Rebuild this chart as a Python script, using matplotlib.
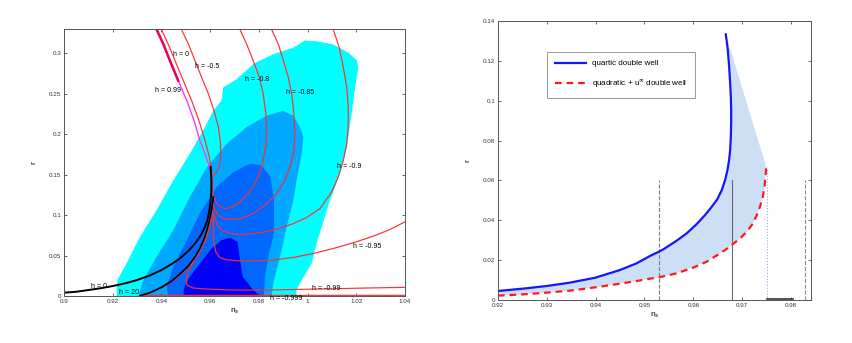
import numpy as np
import matplotlib
matplotlib.use("Agg")
import matplotlib.pyplot as plt

plt.rcParams['font.family'] = ['Liberation Sans', 'DejaVu Sans']

# ---- left panel: likelihood regions in the (n_s, r) plane ----
lev1_ns = [0.9216, 0.9219, 0.9257, 0.9312, 0.9380, 0.9449, 0.9517, 0.9579, 0.9613, 0.9647, 0.9654,
           0.9709, 0.9777, 0.9859, 0.9942, 0.9989, 1.0037, 1.0106, 1.0167, 1.0204, 1.0208, 1.0195,
           1.0181, 1.0161, 1.0133, 1.0092, 1.0058, 1.0037, 1.0017, 0.9976, 0.9955, 0.9953]
lev1_r = [0.0, 0.0197, 0.0403, 0.0732, 0.106, 0.143, 0.176, 0.209, 0.229, 0.242, 0.258,
          0.268, 0.287, 0.299, 0.307, 0.316, 0.315, 0.311, 0.301, 0.291, 0.281, 0.258,
          0.225, 0.184, 0.151, 0.118, 0.0855, 0.0649, 0.0403, 0.0197, 0.0074, 0.0]

lev2_ns = [0.9305, 0.9326, 0.9380, 0.9449, 0.9517, 0.9586, 0.9668, 0.9750, 0.9832, 0.9900, 0.9942,
           0.9969, 0.9983, 0.9976, 0.9955, 0.9942, 0.9914, 0.9900, 0.9880, 0.9859, 0.9853]
lev2_r = [0.0, 0.0197, 0.0485, 0.0814, 0.1225, 0.159, 0.188, 0.209, 0.223, 0.229, 0.223,
          0.209, 0.196, 0.176, 0.143, 0.118, 0.0855, 0.0649, 0.0403, 0.0156, 0.0]

lev3_ns = [0.9428, 0.9422, 0.9449, 0.9504, 0.9558, 0.9627, 0.9695, 0.9764, 0.9812, 0.9848, 0.9862,
           0.9862, 0.9839, 0.9825, 0.9821]
lev3_r = [0.0, 0.0115, 0.0362, 0.069, 0.102, 0.135, 0.153, 0.1636, 0.1615, 0.147, 0.118,
          0.0773, 0.0485, 0.0238, 0.0]

lev4_ns = [0.9490, 0.9493, 0.9517, 0.9558, 0.9606, 0.9647, 0.9682, 0.9712, 0.9723, 0.9734, 0.9777, 0.9805]
lev4_r = [0.0, 0.0115, 0.0238, 0.0403, 0.0588, 0.069, 0.0719, 0.067, 0.0444, 0.0238, 0.0074, 0.0]

# black curves
blk1_ns = [0.9000, 0.9052, 0.9100, 0.9148, 0.9200, 0.9250, 0.9300, 0.9353, 0.9400, 0.9442, 0.9476,
           0.9511, 0.9538, 0.9558, 0.9576, 0.9589, 0.9597, 0.9602, 0.9605, 0.9605, 0.9602]
blk1_r = [0.0041, 0.0053, 0.0074, 0.0095, 0.0123, 0.0156, 0.0197, 0.0255, 0.0321, 0.0395, 0.0464,
          0.0559, 0.0649, 0.0732, 0.0834, 0.0937, 0.1060, 0.1184, 0.1307, 0.1430, 0.1595]
blk2_ns = [0.9312, 0.9353, 0.9400, 0.9442, 0.9476, 0.9511, 0.9538, 0.9558, 0.9576, 0.9589, 0.9599,
           0.9608, 0.9613]
blk2_r = [0.0004, 0.0041, 0.0107, 0.0185, 0.0271, 0.0374, 0.0485, 0.0588, 0.0711, 0.0834, 0.0958,
          0.1102, 0.1225]

# h = const curves
h099_ns = [0.9381, 0.9408, 0.9435, 0.9469, 0.9504, 0.9534, 0.9558, 0.9579, 0.9593, 0.9599]
h099_r = [0.3292, 0.3115, 0.2910, 0.2663, 0.2417, 0.2170, 0.1924, 0.1759, 0.1636, 0.1554]
h0_ns = [0.9401, 0.9428, 0.9456, 0.9490, 0.9524, 0.9554, 0.9579, 0.9597, 0.9606, 0.9610, 0.9613]
h0_r = [0.3292, 0.3115, 0.2910, 0.2663, 0.2417, 0.2170, 0.1924, 0.1718, 0.1554, 0.1389, 0.1225]
h05_ns = [0.9483, 0.9511, 0.9538, 0.9565, 0.9593, 0.9616, 0.9634, 0.9643, 0.9643, 0.9638, 0.9627, 0.9613]
h05_r = [0.3292, 0.3115, 0.2910, 0.2705, 0.2499, 0.2293, 0.2088, 0.1882, 0.1718, 0.1595, 0.1533, 0.1492]
h08_ns = [0.9723, 0.9750, 0.9777, 0.9802, 0.9818, 0.9829, 0.9832, 0.9828, 0.9818, 0.9802, 0.9777,
          0.9750, 0.9723, 0.9695, 0.9668, 0.9647, 0.9630, 0.9620, 0.9616]
h08_r = [0.3292, 0.3115, 0.2910, 0.2705, 0.2499, 0.2252, 0.2006, 0.1841, 0.1677, 0.1513, 0.1348,
         0.1245, 0.1163, 0.1110, 0.1081, 0.1093, 0.1134, 0.1184, 0.1225]
h085_ns = [0.9853, 0.9880, 0.9901, 0.9921, 0.9935, 0.9944, 0.9948, 0.9944, 0.9928, 0.9907, 0.9873,
           0.9832, 0.9777, 0.9723, 0.9682, 0.9654, 0.9634, 0.9621, 0.9616]
h085_r = [0.3292, 0.3115, 0.2910, 0.2705, 0.2499, 0.2252, 0.2006, 0.1800, 0.1595, 0.1430, 0.1266,
          0.1143, 0.1019, 0.0958, 0.0945, 0.0958, 0.0999, 0.1052, 0.1102]
h09_ns = [1.0106, 1.0130, 1.0147, 1.0161, 1.0167, 1.0167, 1.0161, 1.0147, 1.0126, 1.0099, 1.0051,
          0.9996, 0.9942, 0.9887, 0.9832, 0.9777, 0.9723, 0.9682, 0.9651, 0.9630, 0.9621, 0.9616]
h09_r = [0.3292, 0.3074, 0.2828, 0.2581, 0.2335, 0.2088, 0.1882, 0.1677, 0.1471, 0.1286, 0.1081,
         0.0970, 0.0896, 0.0838, 0.0797, 0.0773, 0.0760, 0.0773, 0.0806, 0.0876, 0.0958, 0.1019]
h095_ns = [1.0400, 1.0338, 1.0270, 1.0188, 1.0106, 1.0024, 0.9942, 0.9859, 0.9777, 0.9709, 0.9668,
           0.9640, 0.9624, 0.9616, 0.9613, 0.9613]
h095_r = [0.0917, 0.0822, 0.0740, 0.0658, 0.0588, 0.0526, 0.0477, 0.0444, 0.0432, 0.0436, 0.0448,
          0.0475, 0.0540, 0.0650, 0.0814, 0.0978]
h099n_ns = [1.0400, 1.0243, 1.0106, 0.9969, 0.9832, 0.9695, 0.9586, 0.9531, 0.9506, 0.9501, 0.9511,
            0.9531, 0.9558, 0.9579, 0.9597, 0.9608, 0.9613]
h099n_r = [0.0107, 0.0099, 0.0090, 0.0082, 0.0074, 0.0074, 0.0086, 0.0099, 0.0132, 0.0197, 0.0300,
           0.0423, 0.0588, 0.0711, 0.0855, 0.0999, 0.1143]
h0999_ns = [1.0400, 0.9969, 0.9558, 0.9339, 0.9329, 0.9367, 0.9415, 0.9456, 0.9490, 0.9524, 0.9552,
            0.9572, 0.9589, 0.9599, 0.9608, 0.9613]
h0999_r = [0.0008, 0.0008, 0.0008, 0.0008, 0.0016, 0.0058, 0.0123, 0.0206, 0.0292, 0.0403, 0.0518,
           0.0629, 0.0752, 0.0875, 0.1019, 0.1143]

curve_labels = ['h = 0', 'h = -0.5', 'h = 0.99', 'h = -0.8', 'h = -0.85', 'h = -0.9',
                'h = -0.95', 'h = -0.99', 'h = -0.999', 'h = 0', 'h = 20']
label_ns = [0.9449, 0.9538, 0.9375, 0.9743, 0.9911, 1.0122, 1.0185, 1.0017, 0.9846, 0.911, 0.9227]
label_r = [0.299, 0.284, 0.254, 0.2676, 0.252, 0.1603, 0.0608, 0.0095, -0.0025, 0.0115, 0.0041]

# ---- right panel: double well predictions ----
quartic_ns = [0.92000, 0.92513, 0.92999, 0.93471, 0.93997, 0.94497, 0.94839, 0.95112, 0.95297,
              0.95386, 0.95659, 0.95865, 0.96070, 0.96241, 0.96378, 0.96494, 0.96583, 0.96651,
              0.96699, 0.96733, 0.96754, 0.96768, 0.96775, 0.96775, 0.96768, 0.96754, 0.96733,
              0.96706, 0.96665]
quartic_r = [0.00452, 0.00569, 0.00702, 0.00870, 0.01121, 0.01505, 0.01840, 0.02208, 0.02425,
             0.02542, 0.02977, 0.03345, 0.03813, 0.04265, 0.04683, 0.05068, 0.05519, 0.06021,
             0.06523, 0.07025, 0.07526, 0.08195, 0.08864, 0.09533, 0.10202, 0.10871, 0.11708,
             0.12544, 0.13330]
quadinf_ns = [0.92000, 0.92513, 0.92999, 0.93471, 0.93997, 0.94497, 0.94839, 0.95112, 0.95297,
              0.95659, 0.95995, 0.96275, 0.96494, 0.96651, 0.96788, 0.96959, 0.97096, 0.97212,
              0.97301, 0.97369, 0.97424, 0.97458, 0.97479, 0.97492]
quadinf_r = [0.00217, 0.00284, 0.00368, 0.00468, 0.00636, 0.00820, 0.00953, 0.01070, 0.01137,
             0.01338, 0.01622, 0.01923, 0.02258, 0.02509, 0.02760, 0.03094, 0.03429, 0.03813,
             0.04265, 0.04716, 0.05185, 0.05687, 0.06188, 0.06690]

mark_ns = [0.953, 0.968, 0.9751, 0.9829]
mark_top = [0.060, 0.060, 0.0669, 0.060]
mark_style = ['--', '-', ':', '--']
mark_color = ['#7a7a7a', '#6a6a6a', '#8fa8e8', '#8a8a8a']

fig = plt.figure(figsize=(8.52, 3.43), dpi=100)
axL = fig.add_axes([0.0751, 0.137, 0.4002, 0.778])
axR = fig.add_axes([0.5845, 0.1254, 0.3674, 0.8134])

# left panel
axL.fill(lev1_ns, lev1_r, color='#00ffff', lw=0)
axL.fill(lev2_ns, lev2_r, color='#00a8ff', lw=0)
axL.fill(lev3_ns, lev3_r, color='#0068ff', lw=0)
axL.fill(lev4_ns, lev4_r, color='#0000f5', lw=0)

red = '#ff2f2f'
axL.plot(h099_ns, h099_r, color='#ff33ff', lw=1.0)
for xs, ys in [(h0_ns, h0_r), (h05_ns, h05_r), (h08_ns, h08_r), (h085_ns, h085_r),
               (h09_ns, h09_r), (h095_ns, h095_r), (h099n_ns, h099n_r), (h0999_ns, h0999_r)]:
    axL.plot(xs, ys, color=red, lw=0.85)
axL.plot(h099_ns[:4], h099_r[:4], color='#e8005a', lw=1.8)
axL.plot(blk1_ns, blk1_r, color='black', lw=1.4)
axL.plot(blk2_ns, blk2_r, color='black', lw=1.2)

for txt, x, y in zip(curve_labels, label_ns, label_r):
    axL.text(x, y, txt, fontsize=5, va='center', ha='left', clip_on=False)

axL.set_xlim(0.9, 1.04)
axL.set_ylim(0, 0.33)
axL.set_xticks(np.arange(0.9, 1.0401, 0.02))
axL.set_xticklabels(['0.9', '0.92', '0.94', '0.96', '0.98', '1', '1.02', '1.04'])
axL.set_yticks(np.arange(0, 0.301, 0.05))
axL.set_yticklabels(['0', '0.05', '0.1', '0.15', '0.2', '0.25', '0.3'])
axL.set_xlabel('n$_s$', fontsize=6, labelpad=2)
axL.set_ylabel('r', fontsize=6, labelpad=8)

# right panel
axR.fill(quartic_ns + quadinf_ns[::-1], quartic_r + quadinf_r[::-1], color='#cddff5', lw=0)
for x, top, ls, c in zip(mark_ns, mark_top, mark_style, mark_color):
    axR.plot([x, x], [0, top], ls=ls, color=c, lw=0.8)
axR.plot([0.9751, 0.9805], [0.0004, 0.0004], color='#333333', lw=1.2)
axR.plot(quartic_ns, quartic_r, color='#1515ff', lw=1.6, label='quartic double well')
axR.plot(quadinf_ns, quadinf_r, color='#ff1a1a', lw=1.6, dashes=(3, 2.2),
         label='quadratic + u$^{\\infty}$ double well')
leg = axR.legend(loc='upper left', bbox_to_anchor=(0.157, 0.89), fontsize=5.8, fancybox=False,
                 edgecolor='#888888', framealpha=1, handlelength=3.8, labelspacing=1.2,
                 borderpad=1.0, borderaxespad=0, handletextpad=0.8)
leg.get_frame().set_linewidth(0.6)

axR.set_xlim(0.92, 0.9841)
axR.set_ylim(0, 0.14)
axR.set_xticks(np.arange(0.92, 0.9801, 0.01))
axR.set_xticklabels(['0.92', '0.93', '0.94', '0.95', '0.96', '0.97', '0.98'])
axR.set_yticks(np.arange(0, 0.1401, 0.02))
axR.set_yticklabels(['0', '0.02', '0.04', '0.06', '0.08', '0.1', '0.12', '0.14'])
axR.set_xlabel('n$_s$', fontsize=6, labelpad=2)
axR.set_ylabel('r', fontsize=6, labelpad=8)

for ax in (axL, axR):
    ax.tick_params(direction='in', length=2.5, width=0.5, labelsize=4.5, top=True, right=True,
                   colors='#333333', pad=2)
    for sp in ax.spines.values():
        sp.set_linewidth(0.7)
        sp.set_color('#555555')

fig.savefig('out.png', dpi=100)
